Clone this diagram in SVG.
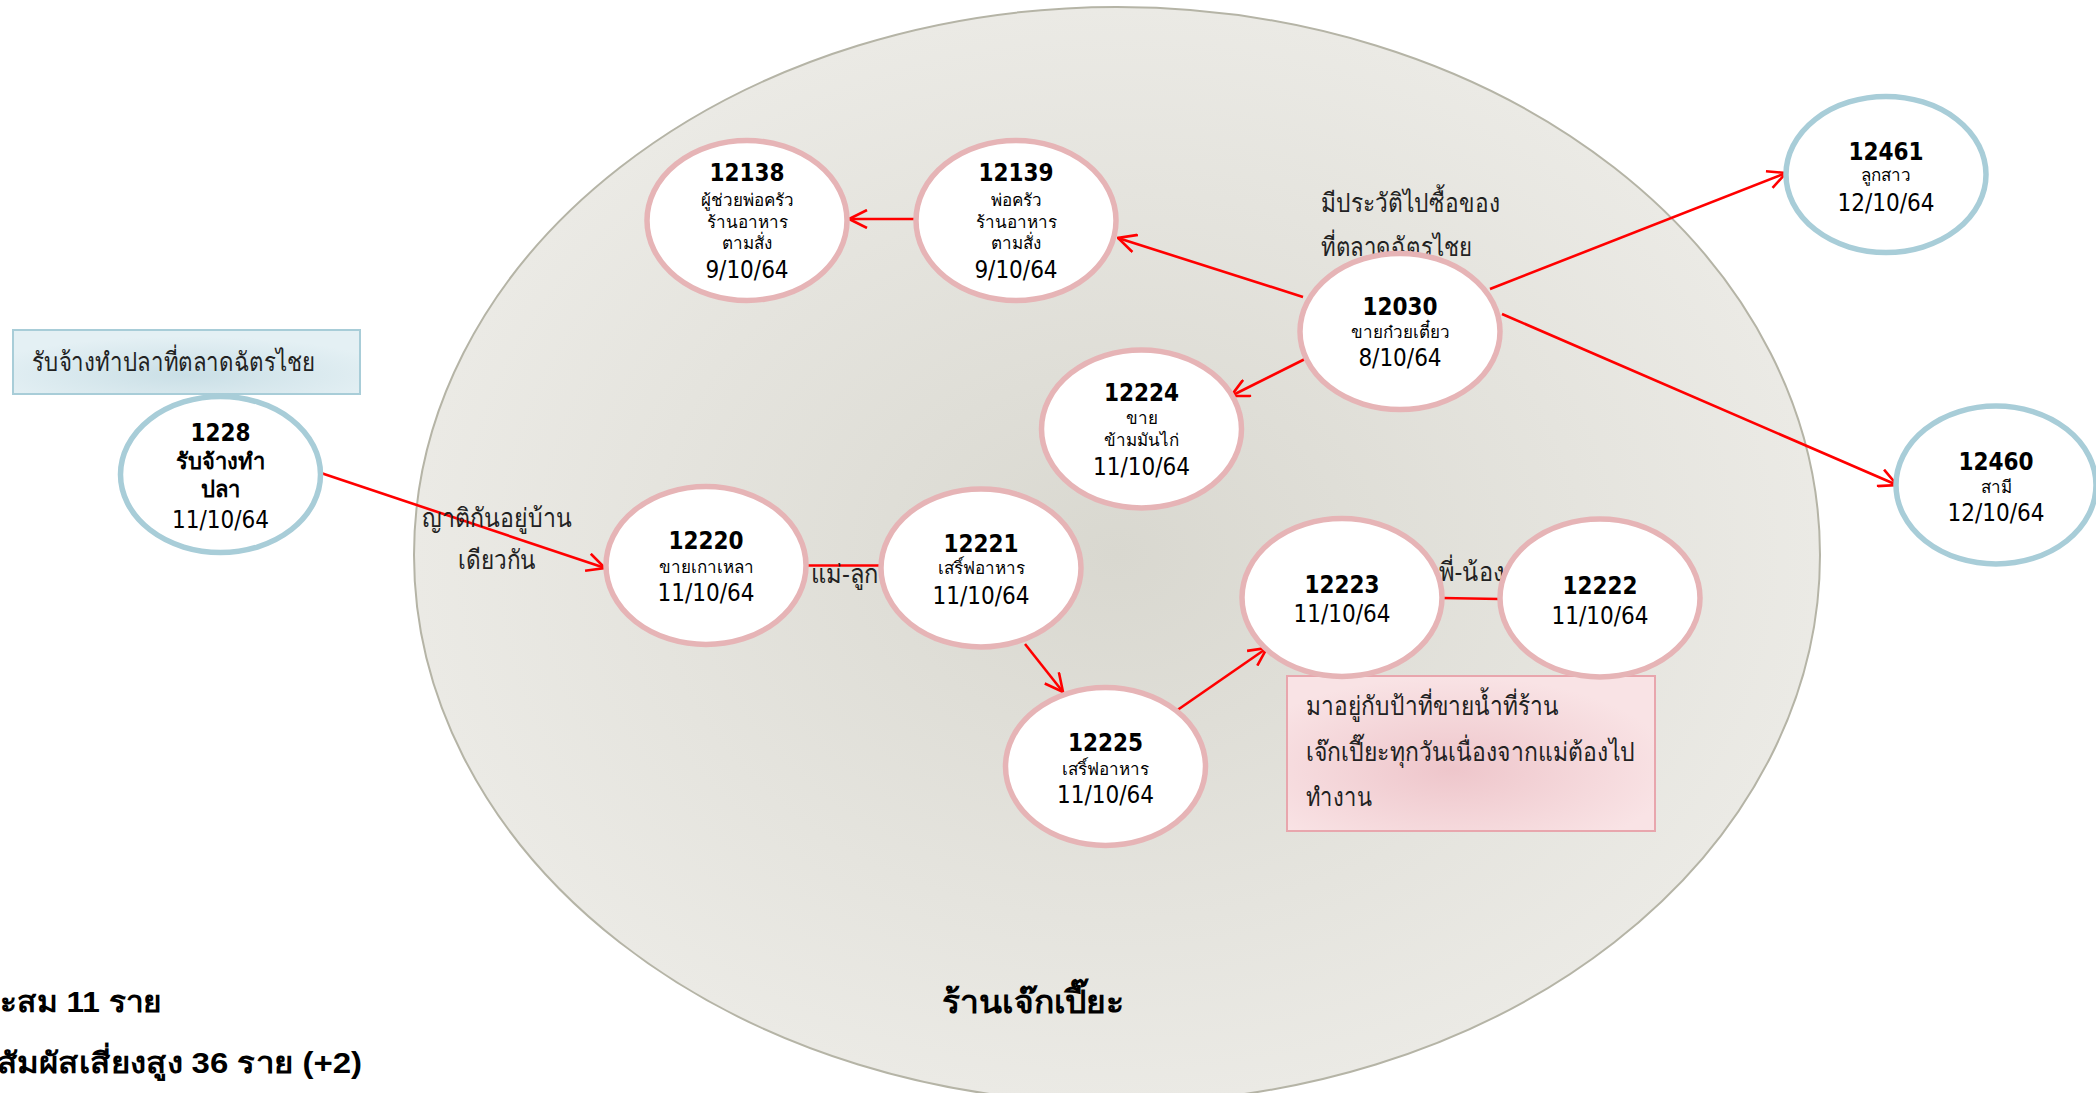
<svg xmlns="http://www.w3.org/2000/svg" width="2096" height="1093" viewBox="0 0 2096 1093">
<defs>
<radialGradient id="bg" cx="0.5" cy="0.5" r="0.5">
<stop offset="0" stop-color="#d9d8d0"/>
<stop offset="1" stop-color="#ebeae5"/>
</radialGradient>
<radialGradient id="blueBox" cx="0.5" cy="0.7" r="0.6">
<stop offset="0" stop-color="#cadfe6"/>
<stop offset="1" stop-color="#e4f0f4"/>
</radialGradient>
<radialGradient id="pinkBox" cx="0.45" cy="0.6" r="0.6">
<stop offset="0" stop-color="#eec6cb"/>
<stop offset="1" stop-color="#f9e3e5"/>
</radialGradient>
<marker id="arr" viewBox="0 0 20 20" refX="19" refY="10" markerWidth="20" markerHeight="20" markerUnits="userSpaceOnUse" orient="auto">
<path d="M1,1 L19,10 L1,19" fill="none" stroke="#ff0000" stroke-width="2.6"/>
</marker>
</defs>
<style>
.pink{fill:#ffffff;stroke:#e6b4b6;stroke-width:5.5}
.blue{fill:#ffffff;stroke:#a8cdd8;stroke-width:5.5}
.edge{stroke:#ff0000;stroke-width:2.6;fill:none}
text{fill:#000000;text-anchor:middle}
.num{font-family:"DejaVu Sans Condensed","DejaVu Sans",sans-serif;font-weight:bold;font-size:24px}
.date{font-family:"DejaVu Sans Condensed","DejaVu Sans",sans-serif;font-size:24px}
.role{font-family:"DejaVu Sans Condensed","DejaVu Sans","Noto Sans",sans-serif;font-size:17px}
.role2{font-family:"DejaVu Sans Condensed","DejaVu Sans","Noto Sans",sans-serif;font-size:22px;font-weight:bold}
.lab{font-family:"Liberation Sans","Noto Sans",sans-serif;font-size:26px;fill:#222222}
.labL{font-family:"Liberation Sans","Noto Sans",sans-serif;font-size:26px;fill:#222222;text-anchor:start}
.big{font-family:"Liberation Sans","Noto Sans",sans-serif;font-size:32px;font-weight:bold}
.stat{font-family:"Liberation Sans","Noto Sans",sans-serif;font-size:29px;font-weight:bold;text-anchor:start}
</style>

<g id="shop-area">
<ellipse cx="1117" cy="555" rx="703" ry="548" fill="url(#bg)" stroke="#b5b4a6" stroke-width="2"/>
<text class="big" x="1033" y="1013" textLength="182" lengthAdjust="spacingAndGlyphs">ร้านเจ๊กเปี๊ยะ</text>
</g>

<g id="stats">
<text class="stat" x="0" y="1012" textLength="162" lengthAdjust="spacingAndGlyphs">ะสม 11 ราย</text>
<text class="stat" x="-3" y="1073" textLength="365" lengthAdjust="spacingAndGlyphs">สัมผัสเสี่ยงสูง 36 ราย (+2)</text>
</g>

<g id="note-1228">
<rect x="13" y="330" width="347" height="64" fill="url(#blueBox)" stroke="#a8cdd8" stroke-width="2"/>
<text class="labL" x="32" y="371" textLength="283" lengthAdjust="spacingAndGlyphs">รับจ้างทำปลาที่ตลาดฉัตรไชย</text>
</g>

<g id="note-12223">
<rect x="1287" y="676" width="368" height="155" fill="url(#pinkBox)" stroke="#e8a6ad" stroke-width="2"/>
<text class="labL" x="1306" y="715" textLength="253" lengthAdjust="spacingAndGlyphs">มาอยู่กับป้าที่ขายน้ำที่ร้าน</text>
<text class="labL" x="1306" y="761" textLength="329" lengthAdjust="spacingAndGlyphs">เจ๊กเปี๊ยะทุกวันเนื่องจากแม่ต้องไป</text>
<text class="labL" x="1306" y="806" textLength="66" lengthAdjust="spacingAndGlyphs">ทำงาน</text>
</g>

<g id="connectors">
<line class="edge" x1="321" y1="473" x2="605" y2="568" marker-end="url(#arr)"/>
<line class="edge" x1="915" y1="219" x2="849" y2="219" marker-end="url(#arr)"/>
<line class="edge" x1="1303" y1="297" x2="1118" y2="238" marker-end="url(#arr)"/>
<line class="edge" x1="1307" y1="358" x2="1231" y2="396" marker-end="url(#arr)"/>
<line class="edge" x1="1490" y1="289" x2="1786" y2="173" marker-end="url(#arr)"/>
<line class="edge" x1="1502" y1="314" x2="1897" y2="485" marker-end="url(#arr)"/>
<line class="edge" x1="806" y1="565.5" x2="881" y2="565.5"/>
<line class="edge" x1="1025" y1="644" x2="1063" y2="692" marker-end="url(#arr)"/>
<line class="edge" x1="1176" y1="711" x2="1267" y2="648" marker-end="url(#arr)"/>
<line class="edge" x1="1442" y1="598" x2="1500" y2="599"/>
<text class="lab" x="497" y="527" textLength="150" lengthAdjust="spacingAndGlyphs">ญาติกันอยู่บ้าน</text>
<text class="lab" x="497" y="569" textLength="78" lengthAdjust="spacingAndGlyphs">เดียวกัน</text>
<text class="lab" x="845" y="583" textLength="68" lengthAdjust="spacingAndGlyphs">แม่-ลูก</text>
<text class="lab" x="1472" y="581" textLength="66" lengthAdjust="spacingAndGlyphs">พี่-น้อง</text>
<text class="labL" x="1321" y="212" textLength="179" lengthAdjust="spacingAndGlyphs">มีประวัติไปซื้อของ</text>
<text class="labL" x="1321" y="256" textLength="151" lengthAdjust="spacingAndGlyphs">ที่ตลาดฉัตรไชย</text>
</g>

<g id="n1228">
<ellipse class="blue" cx="220.5" cy="474.5" rx="100" ry="78"/>
<text class="num" x="220.5" y="440.5">1228</text>
<text class="role2" x="220.5" y="469">รับจ้างทำ</text>
<text class="role2" x="220.5" y="497">ปลา</text>
<text class="date" x="220.5" y="527.5">11/10/64</text>
</g>

<g id="n12138">
<ellipse class="pink" cx="747" cy="220.5" rx="100" ry="80"/>
<text class="num" x="747" y="180.5">12138</text>
<text class="role" x="747" y="206">ผู้ช่วยพ่อครัว</text>
<text class="role" x="747" y="228">ร้านอาหาร</text>
<text class="role" x="747" y="249">ตามสั่ง</text>
<text class="date" x="747" y="277.5">9/10/64</text>
</g>

<g id="n12139">
<ellipse class="pink" cx="1016" cy="220.5" rx="100" ry="80"/>
<text class="num" x="1016" y="180.5">12139</text>
<text class="role" x="1016" y="206">พ่อครัว</text>
<text class="role" x="1016" y="228">ร้านอาหาร</text>
<text class="role" x="1016" y="249">ตามสั่ง</text>
<text class="date" x="1016" y="277.5">9/10/64</text>
</g>

<g id="n12030">
<ellipse class="pink" cx="1400" cy="331.5" rx="100" ry="78"/>
<text class="num" x="1400" y="314.5">12030</text>
<text class="role" x="1400" y="337.5">ขายก๋วยเตี๋ยว</text>
<text class="date" x="1400" y="365.5">8/10/64</text>
</g>

<g id="n12224">
<ellipse class="pink" cx="1141.5" cy="429" rx="100" ry="79"/>
<text class="num" x="1141.5" y="400.5">12224</text>
<text class="role" x="1141.5" y="424">ขาย</text>
<text class="role" x="1141.5" y="446">ข้ามมันไก่</text>
<text class="date" x="1141.5" y="475">11/10/64</text>
</g>

<g id="n12220">
<ellipse class="pink" cx="706" cy="565.5" rx="100" ry="79"/>
<text class="num" x="706" y="548.5">12220</text>
<text class="role" x="706" y="573">ขายเกาเหลา</text>
<text class="date" x="706" y="600.5">11/10/64</text>
</g>

<g id="n12221">
<ellipse class="pink" cx="981" cy="568" rx="100" ry="79"/>
<text class="num" x="981" y="551.5">12221</text>
<text class="role" x="981" y="574">เสริ์ฟอาหาร</text>
<text class="date" x="981" y="603.5">11/10/64</text>
</g>

<g id="n12225">
<ellipse class="pink" cx="1105.5" cy="766.5" rx="100" ry="79"/>
<text class="num" x="1105.5" y="750.5">12225</text>
<text class="role" x="1105.5" y="774.5">เสริ์ฟอาหาร</text>
<text class="date" x="1105.5" y="802.5">11/10/64</text>
</g>

<g id="n12223">
<ellipse class="pink" cx="1342" cy="597.5" rx="100" ry="79"/>
<text class="num" x="1342" y="592.5">12223</text>
<text class="date" x="1342" y="622">11/10/64</text>
</g>

<g id="n12222">
<ellipse class="pink" cx="1600" cy="598" rx="100" ry="79"/>
<text class="num" x="1600" y="594">12222</text>
<text class="date" x="1600" y="623.5">11/10/64</text>
</g>

<g id="n12461">
<ellipse class="blue" cx="1886" cy="174.5" rx="100" ry="78"/>
<text class="num" x="1886" y="159.5">12461</text>
<text class="role" x="1886" y="181">ลูกสาว</text>
<text class="date" x="1886" y="210.5">12/10/64</text>
</g>

<g id="n12460">
<ellipse class="blue" cx="1996" cy="485" rx="100" ry="79"/>
<text class="num" x="1996" y="469.5">12460</text>
<text class="role" x="1996" y="492.5">สามี</text>
<text class="date" x="1996" y="520.5">12/10/64</text>
</g>
</svg>
